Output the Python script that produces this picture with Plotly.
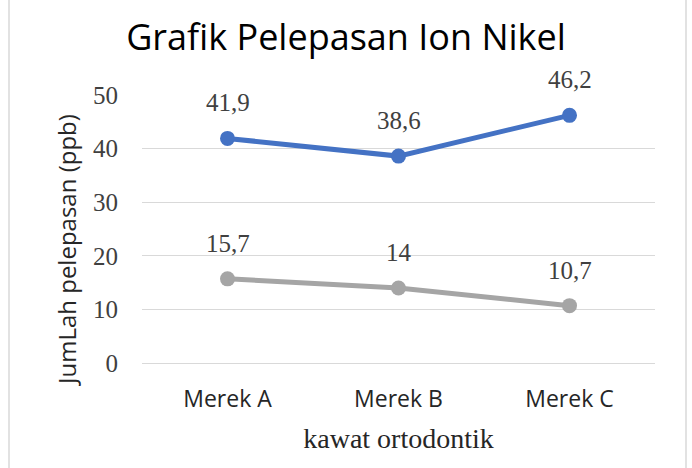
import plotly.graph_objects as go

categories = ["Merek A", "Merek B", "Merek C"]
series_top = [41.9, 38.6, 46.2]
series_bottom = [15.7, 14, 10.7]
labels_top = ["41,9", "38,6", "46,2"]
labels_bottom = ["15,7", "14", "10,7"]
y_ticks = [0, 10, 20, 30, 40, 50]

BLUE = "#4472C4"
GRAY = "#A5A5A5"
SERIF = "Liberation Serif, Times New Roman, serif"
SANS = "Open Sans, Liberation Sans, sans-serif"

W, H = 692, 468
L, R, T, B = 142, 37, 95, 105
PW, PH = W - L - R, H - T - B

fig = go.Figure()
fig.add_trace(go.Scatter(x=categories, y=series_top, mode="lines+markers",
                         line=dict(color=BLUE, width=5), marker=dict(size=15, color=BLUE),
                         showlegend=False, cliponaxis=False))
fig.add_trace(go.Scatter(x=categories, y=series_bottom, mode="lines+markers",
                         line=dict(color=GRAY, width=5), marker=dict(size=15, color=GRAY),
                         showlegend=False, cliponaxis=False))

annotations = []
for c, v, t in zip(categories, series_top, labels_top):
    annotations.append(dict(x=c, y=v, text=t, showarrow=False, yshift=36,
                            font=dict(family=SERIF, size=25, color="#404040")))
for c, v, t in zip(categories, series_bottom, labels_bottom):
    annotations.append(dict(x=c, y=v, text=t, showarrow=False, yshift=35,
                            font=dict(family=SERIF, size=25, color="#404040")))
# y-axis title placed like the reference
annotations.append(dict(x=(66 - L) / PW, y=(H - B - 250) / PH, xref="paper", yref="paper",
                        text="JumLah pelepasan (ppb)", textangle=-90, showarrow=False,
                        xanchor="center", yanchor="middle",
                        font=dict(family=SANS, size=24, color="#262626")))

fig.update_layout(
    width=W, height=H,
    margin=dict(l=L, r=R, t=T, b=B),
    paper_bgcolor="white", plot_bgcolor="white",
    title=dict(text="Grafik Pelepasan Ion Nikel", x=0.5, xanchor="center",
               xref="container", y=1 - 37 / H, yanchor="middle", yref="container",
               font=dict(family=SANS, size=36, color="#000000")),
    xaxis=dict(type="category", range=[-0.5, 2.5], showgrid=False, showline=True,
               linecolor="#D9D9D9", linewidth=1, ticks="outside", ticklen=15,
               tickcolor="rgba(0,0,0,0)",
               tickfont=dict(family=SANS, size=23, color="#262626"),
               title=dict(text="kawat ortodontik", standoff=15,
                          font=dict(family=SERIF, size=28, color="#262626"))),
    yaxis=dict(range=[0, 50], tickvals=y_ticks, showgrid=True, gridcolor="#D9D9D9",
               gridwidth=1, zeroline=False, showline=False, ticks="outside",
               ticklen=18, tickcolor="rgba(0,0,0,0)",
               tickfont=dict(family=SERIF, size=25, color="#404040")),
    annotations=annotations,
    shapes=[dict(type="rect", xref="paper", yref="paper",
                 x0=(9 - L) / PW, x1=(686 - L) / PW,
                 y0=-0.5, y1=1.6, line=dict(color="#D9D9D9", width=1.5),
                 fillcolor="rgba(0,0,0,0)", layer="below")],
)

fig.write_html("out.html")
